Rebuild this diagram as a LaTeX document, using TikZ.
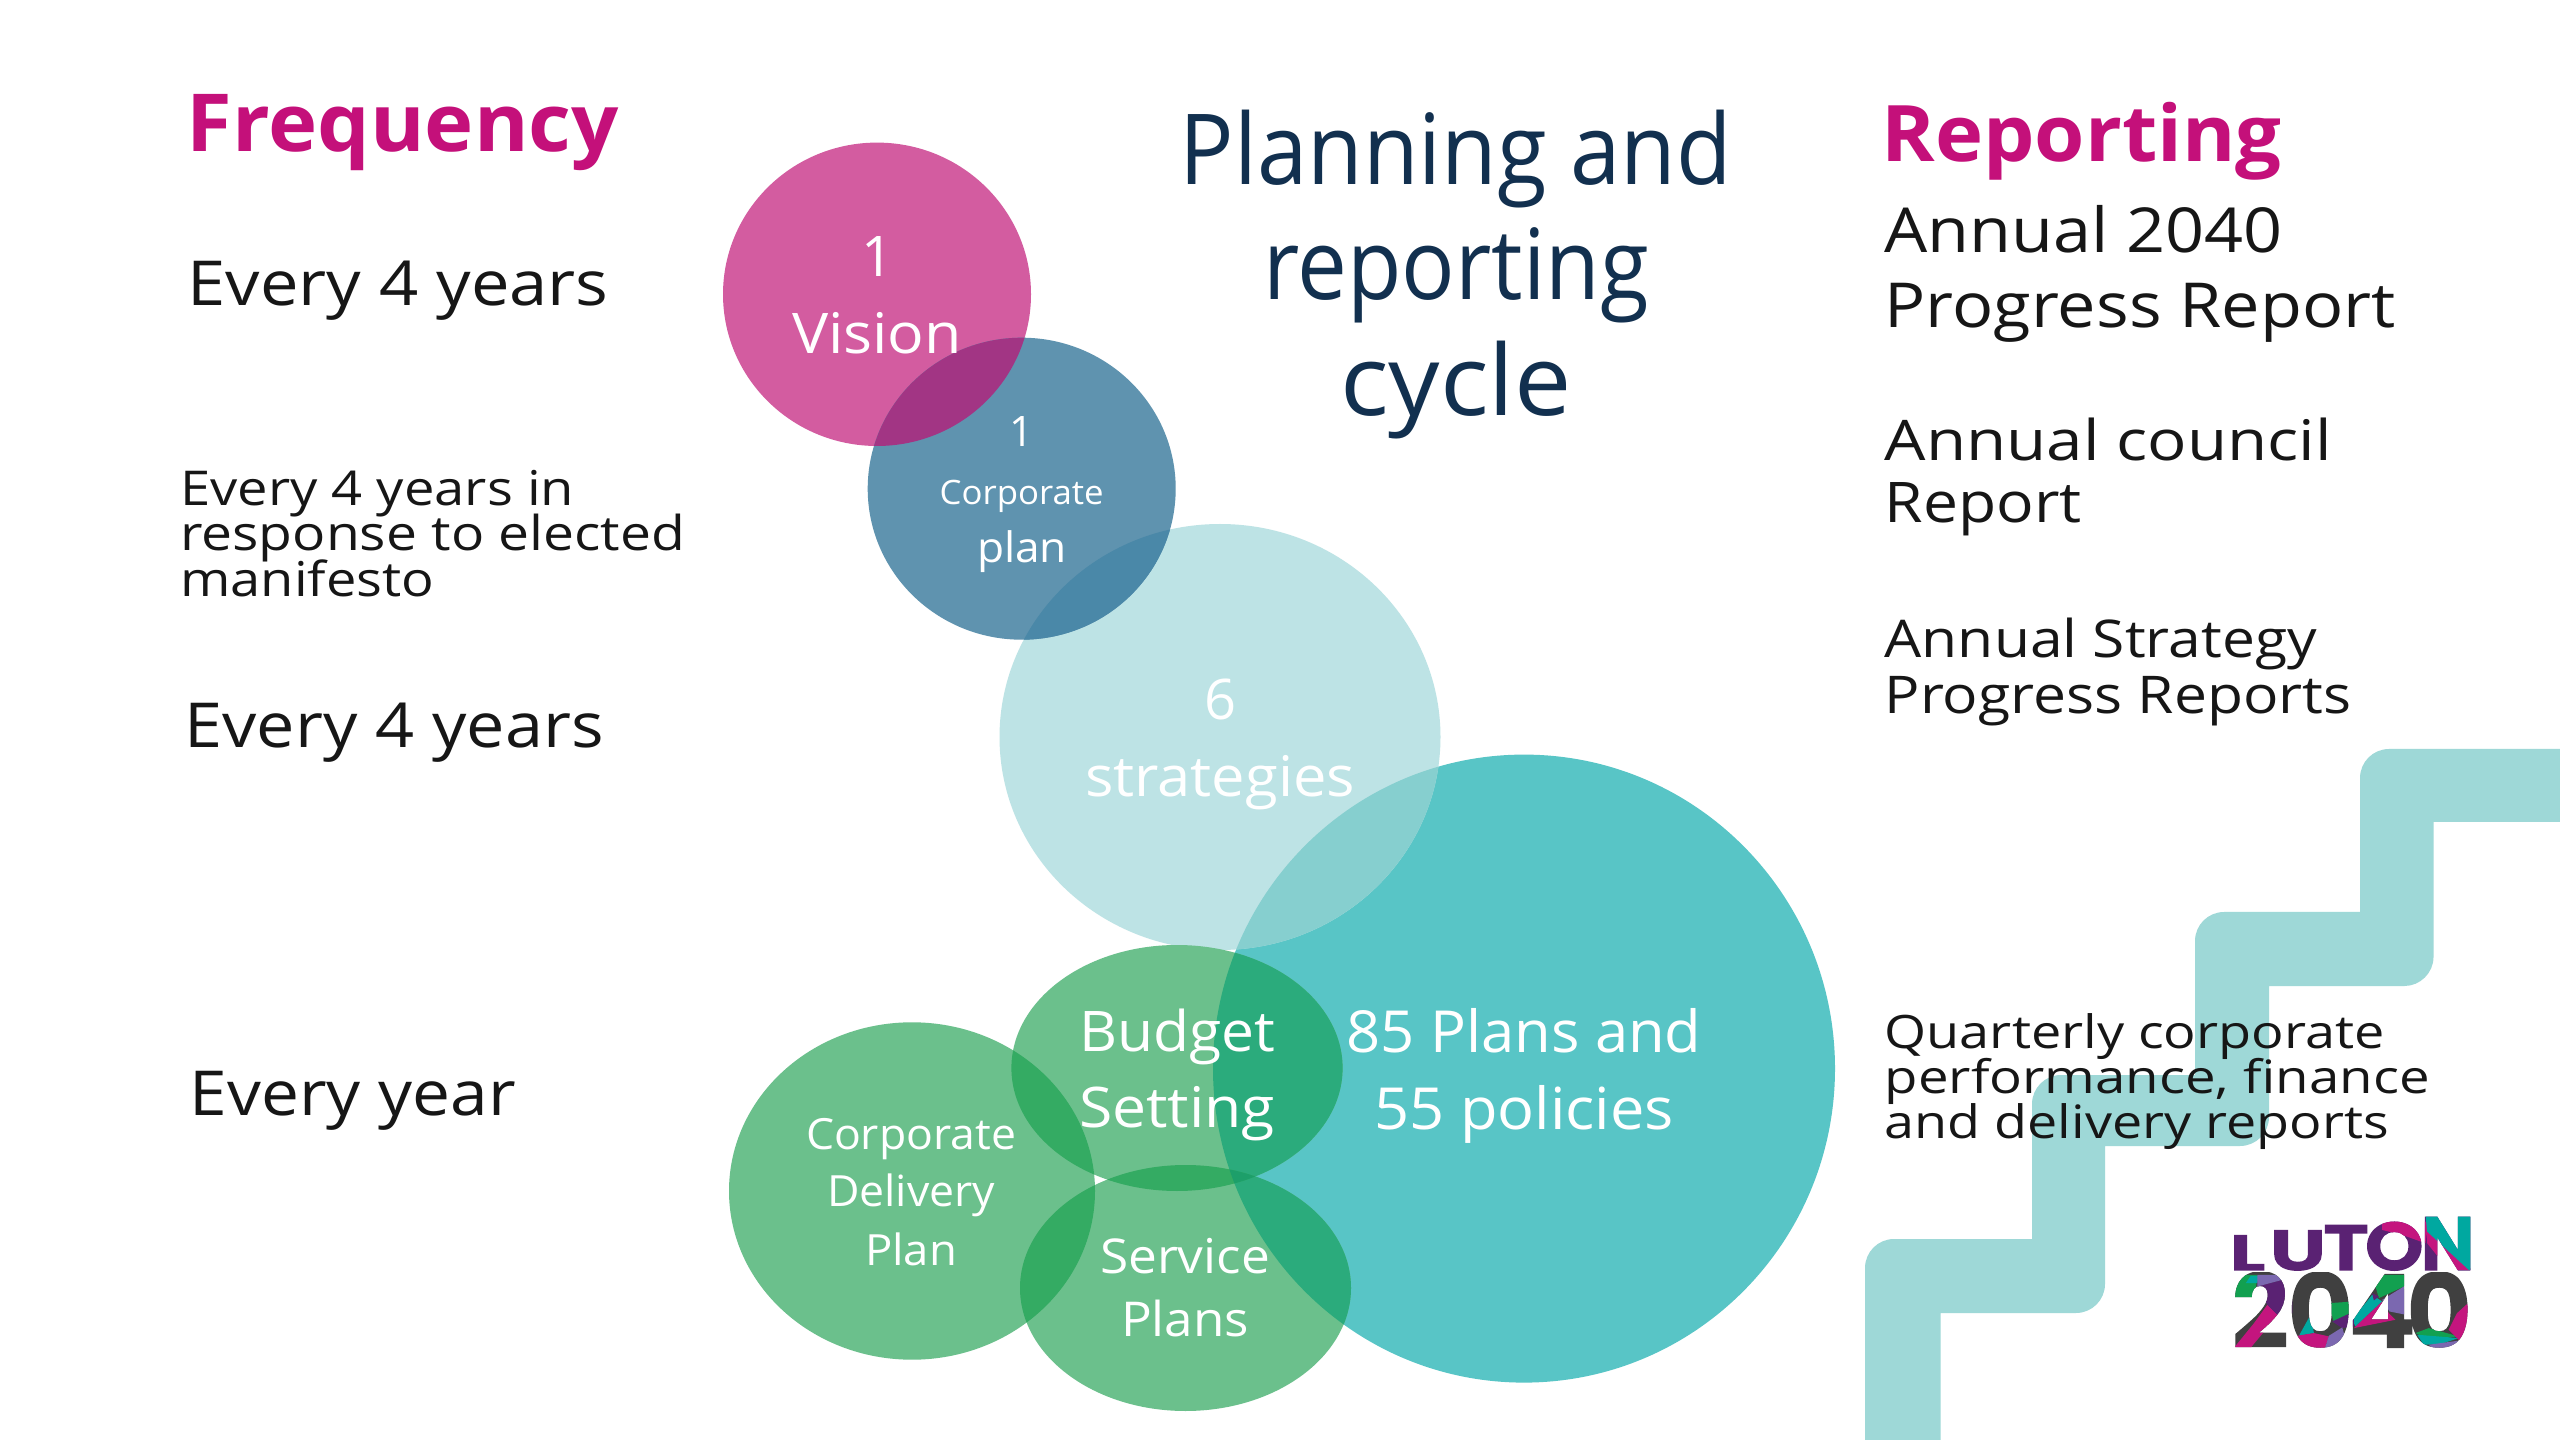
\documentclass[tikz,border=0pt]{standalone}
\usepackage{fontspec}
\usepackage{graphicx}
\setmainfont{Open Sans}
\newfontfamily\lgL[FakeStretch=1.5]{Poppins}
\newfontfamily\lgU[FakeStretch=1.4]{Poppins}
\newfontfamily\lgT[FakeStretch=1.2]{Poppins}
\newfontfamily\lgO[FakeStretch=1.1]{Poppins}
\newfontfamily\lgN[FakeStretch=0.94]{Poppins}
\newfontfamily\lgD[FakeStretch=0.98]{Poppins}
\newdimen\pxu \pxu=0.01cm
\newdimen\lgu \lgu=0.003333cm
\newcommand\pxf[1]{\fontsize{\the\dimexpr #1\pxu\relax}{\the\dimexpr #1\pxu\relax}\selectfont}
\newcommand\lgf[1]{\fontsize{\the\dimexpr #1\lgu\relax}{\the\dimexpr #1\lgu\relax}\selectfont}
\newcommand\tl[2]{\hbox{\resizebox{#1\pxu}{\height}{#2}}}
\newcommand\cl[2]{\hbox to 0pt{\hss\resizebox{#1\pxu}{\height}{#2}\hss}}
\newcommand\cn[1]{\hbox to 0pt{\hss #1\hss}}
\newcommand\stack[2]{\vtop{\baselineskip=#1\pxu\lineskiplimit=-1000pt\lineskip=0pt #2}}
\newcommand\lgglyph[2]{\hbox to 0pt{\kern#1\lgu #2\hss}}
\makeatletter
\newcommand\clipstart{\pgfsys@invoke{q 7 Tr}}
\newcommand\clipstop{\pgfsys@invoke{0 Tr}}
\newcommand\clipend{\pgfsys@invoke{Q}}
\makeatother
\definecolor{ink}{HTML}{161616}
\definecolor{navy}{HTML}{12304F}
\definecolor{mag}{HTML}{C4107A}
\definecolor{stair}{HTML}{9ED8D7}
\definecolor{visionC}{HTML}{D35CA0}
\definecolor{visionX}{HTML}{A23584}
\definecolor{corpC}{HTML}{5F93AF}
\definecolor{corpX}{HTML}{4A88A8}
\definecolor{stratC}{HTML}{BDE3E5}
\definecolor{stratX}{HTML}{86CFCF}
\definecolor{plansC}{HTML}{58C5C6}
\definecolor{greenC}{HTML}{6BC08C}
\definecolor{greenP}{HTML}{2BAB7C}
\definecolor{greenG}{HTML}{34AB63}
\definecolor{greenT}{HTML}{1D9F6A}
\definecolor{lgPurple}{HTML}{5A2273}
\definecolor{lgMag}{HTML}{C4157E}
\definecolor{lgTeal}{HTML}{00A8A0}
\definecolor{lgGreen}{HTML}{12A050}
\definecolor{lgLilac}{HTML}{7B68B0}
\definecolor{lgGrey}{HTML}{404040}
\tikzset{
  lefttext/.style={inner sep=0pt,anchor=base west,text=ink},
  midtext/.style={inner sep=0pt,anchor=base,text=white},
  titletext/.style={inner sep=0pt,anchor=base,text=navy},
  headtext/.style={inner sep=0pt,anchor=base west,text=mag,font=\bfseries},
  logotext/.style={inner sep=0pt,anchor=base west}
}
\def\eVision{(877,294.3) ellipse [x radius=154,y radius=151.7]}
\def\eCorp{(1021.7,488.7) ellipse [x radius=154,y radius=151]}
\def\eStrat{(1220,737) ellipse [x radius=220.5,y radius=213]}
\def\ePlans{(1524,1068.6) ellipse [x radius=311,y radius=314]}
\def\eBudget{(1177,1068) ellipse [x radius=165.6,y radius=123]}
\def\eDeliv{(912,1191) ellipse [x radius=183,y radius=168.7]}
\def\eServ{(1185.5,1288) ellipse [x radius=165.5,y radius=123]}
\newcommand\overlap[3]{\begin{scope}\clip #1;\fill[#3] #2;\end{scope}}
\begin{document}
\begin{tikzpicture}[x=0.01cm,y=-0.01cm]
\useasboundingbox (0,0) rectangle (2560,1440);
\fill[white] (0,0) rectangle (2560,1440);
% stairs
\fill[stair] (1865,1440) -- (1865,1268) .. controls (1865,1252) and (1878,1239) .. (1894,1239)
 -- (2032,1239) -- (2032,1104) .. controls (2032,1088) and (2045,1075) .. (2061,1075)
 -- (2195,1075) -- (2195,941) .. controls (2195,925) and (2208,912) .. (2224,912)
 -- (2360,912) -- (2360,778) .. controls (2360,762) and (2373,749) .. (2389,749)
 -- (2560,749) -- (2560,822) -- (2433.5,822) -- (2433.5,957) .. controls (2433.5,973) and (2420,986) .. (2404.5,986)
 -- (2269,986) -- (2269,1117) .. controls (2269,1133) and (2256,1146) .. (2240,1146)
 -- (2105,1146) -- (2105,1284) .. controls (2105,1300) and (2092,1313) .. (2076,1313)
 -- (1940.6,1313) -- (1940.6,1440) -- cycle;
% circles
\fill[plansC] \ePlans;
\fill[stratC] \eStrat;
\fill[visionC] \eVision;
\fill[corpC] \eCorp;
\fill[greenC] \eBudget;
\fill[greenC] \eDeliv;
\fill[greenC] \eServ;
\overlap{\eVision}{\eCorp}{visionX}
\overlap{\eCorp}{\eStrat}{corpX}
\overlap{\eStrat}{\ePlans}{stratX}
\overlap{\ePlans}{\eBudget}{greenP}
\overlap{\ePlans}{\eServ}{greenP}
\overlap{\eDeliv}{\eBudget}{greenG}
\overlap{\eDeliv}{\eServ}{greenG}
\overlap{\eBudget}{\eServ}{greenG}
\begin{scope}\clip \ePlans;\clip \eBudget;\fill[greenT] \eServ;\end{scope}
% circle text
\node[midtext,font=\pxf{56}] (vision) at (877,277) {\stack{76.3}{\cn{1}\cl{170}{Vision}}};
\node[midtext,font=\pxf{42}] (corpA) at (1021.7,446.7) {\cn{1}};
\node[midtext,font=\pxf{33.6}] (corpB) at (1021.7,505) {\cl{164}{Corporate}};
\node[midtext,font=\pxf{42}] (corpC) at (1022,563) {\cl{90}{plan}};
\node[midtext,font=\pxf{56}] (strat) at (1220,720) {\stack{77}{\cn{6}\cl{270}{strategies}}};
\node[midtext,font=\pxf{58}] (plans) at (1524,1052) {\stack{77}{\cl{355}{85 Plans and}\cl{300}{55 policies}}};
\node[midtext,font=\pxf{56}] (budget) at (1177,1051.5) {\stack{76}{\cl{196}{Budget}\cl{196}{Setting}}};
\node[midtext,font=\pxf{43}] (deliv) at (911,1149) {\stack{58}{\cl{210}{Corporate}\cl{168}{Delivery}\cl{92}{Plan}}};
\node[midtext,font=\pxf{48}] (serv) at (1185,1273) {\stack{63}{\cl{170}{Service}\cl{128}{Plans}}};
% left column
\node[headtext,font=\bfseries\pxf{80}] (freq) at (186,152) {\tl{432}{Frequency}};
\node[lefttext,font=\pxf{62}] (e1) at (187,306) {\tl{421}{Every 4 years}};
\node[lefttext,font=\pxf{48}] (e2) at (179.5,505.5) {\stack{45.5}{\tl{394}{Every 4 years in}\tl{505}{response to elected}\tl{254}{manifesto}}};
\node[lefttext,font=\pxf{62}] (e3) at (184,748) {\tl{419}{Every 4 years}};
\node[lefttext,font=\pxf{62}] (e4) at (189,1115.5) {\tl{326}{Every year}};
% title
\node[titletext,font=\pxf{98}] (title) at (1456,184.5) {\stack{115.5}{\cl{552}{Planning and}\cl{386}{reporting}\cl{232}{cycle}}};
% right column
\node[headtext,font=\bfseries\pxf{78}] (rep) at (1881,162) {\tl{400}{Reporting}};
\node[lefttext,font=\pxf{62}] (r1) at (1884,253) {\stack{75}{\tl{398}{Annual 2040}\tl{511}{Progress Report}}};
\node[lefttext,font=\pxf{56}] (r2) at (1884,461) {\stack{61.5}{\tl{447}{Annual council}\tl{197}{Report}}};
\node[lefttext,font=\pxf{52}] (r3) at (1884,657.5) {\stack{56}{\tl{432}{Annual Strategy}\tl{467}{Progress Reports}}};
\node[lefttext,font=\pxf{46}] (r4) at (1884,1048) {\stack{45}{\tl{500}{Quarterly corporate}\tl{545}{performance, finance}\tl{504}{and delivery reports}}};
% logo: one text, used as the clip of its colour patches (coordinates in 3x zoomed units)
\begin{scope}[shift={(2180,1180)},x=0.003333cm,y=-0.003333cm]
 \node[logotext] (luton) at (147,272) {\clipstart\bfseries
  \lgglyph{-6}{\lgL\lgf{153}L}\lgglyph{114}{\lgU\lgf{174}U}\lgglyph{275}{\lgT\lgf{196}T}\lgglyph{400}{\lgO\lgf{207}O}\lgglyph{568}{\lgN\lgf{231}N}\clipstop
  \begin{tikzpicture}[overlay,x=0.003333cm,y=-0.003333cm,shift={(-147,-272)}]
   \fill[lgPurple] (140,90) rectangle (890,290);
   \fill[lgMag] (600,125) -- (740,125) -- (730,190) -- (660,165) -- (600,150) -- cycle
        (735,150) -- (870,270) -- (800,270) -- (735,190) -- cycle;
   \fill[lgTeal] (730,100) -- (880,100) -- (880,270) -- (860,270) -- (735,155) -- cycle;
  \end{tikzpicture}\clipend};
 \node[logotext] (year) at (147,505) {\clipstart\bfseries\lgD\lgf{310}%
  \lgglyph{0}{2}\lgglyph{168}{0}\lgglyph{350}{4}\lgglyph{525}{0}\clipstop
  \begin{tikzpicture}[overlay,x=0.003333cm,y=-0.003333cm,shift={(-147,-505)}]
   \fill[lgGrey] (140,275) rectangle (890,525);
   \fill[lgGreen] (150,380) -- (150,285) -- (225,285) -- (215,375) -- cycle
        (440,370) -- (515,365) -- (515,395) -- (455,430) -- cycle
        (570,285) -- (675,285) -- (665,320) -- (590,355) -- cycle
        (700,460) -- (740,445) -- (830,470) -- (740,480) -- cycle;
   \fill[lgTeal] (350,468) -- (385,405) -- (395,460) -- cycle
        (510,420) -- (570,345) -- (600,365) -- (520,440) -- cycle
        (705,465) -- (830,475) -- (770,495) -- (725,495) -- cycle
        (190,310) -- (205,288) -- (230,288) -- (225,310) -- cycle;
   \fill[lgMag] (150,510) -- (215,430) -- (255,375) -- (285,405) -- (250,450) -- (200,510) -- cycle
        (345,468) -- (395,460) -- (440,470) -- (425,515) -- (365,515) -- cycle
        (515,445) -- (600,365) -- (620,400) -- (640,420) -- cycle
        (800,450) -- (825,400) -- (880,350) -- (880,470) -- (840,490) -- cycle;
   \fill[lgPurple] (225,320) -- (300,300) -- (330,340) -- (330,400) -- (285,405) -- (255,375) -- cycle
        (450,425) -- (515,395) -- (515,440) -- (480,445) -- cycle
        (570,340) -- (590,350) -- (575,362) -- cycle;
   \fill[lgLilac] (225,285) -- (310,285) -- (300,300) -- (225,320) -- cycle
        (425,515) -- (440,468) -- (480,443) -- (495,495) -- cycle
        (600,360) -- (665,320) -- (672,405) -- (622,395) -- cycle
        (740,495) -- (850,480) -- (815,518) -- (765,518) -- cycle;
  \end{tikzpicture}\clipend};
\end{scope}
\end{tikzpicture}
\end{document}
